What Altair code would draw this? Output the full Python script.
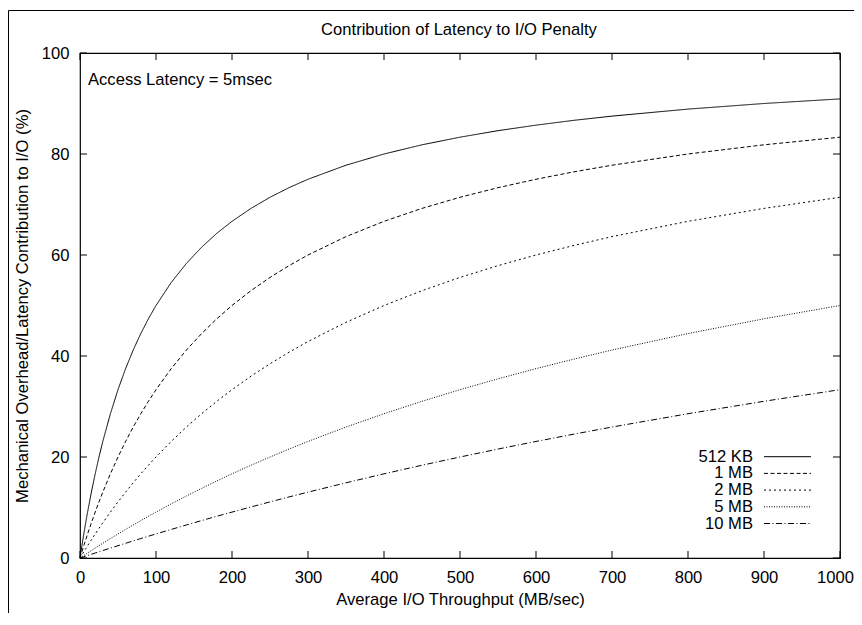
import altair as alt
import pandas as pd

FONT = "Liberation Sans"
FS = 16.6

# ---- data ----
throughput = [0, 2.5, 5, 7.5, 10, 15, 20, 25, 30, 40, 50, 60, 70, 80, 90, 100, 120, 140, 160, 180,
              200, 225, 250, 275, 300, 350, 400, 450, 500, 550, 600, 650, 700, 800, 900, 1000]

pct_512kb = [0, 2.44, 4.76, 6.98, 9.09, 13.04, 16.67, 20.0, 23.08, 28.57, 33.33, 37.5, 41.18, 44.44,
             47.37, 50.0, 54.55, 58.33, 61.54, 64.29, 66.67, 69.23, 71.43, 73.33, 75.0, 77.78, 80.0,
             81.82, 83.33, 84.62, 85.71, 86.67, 87.5, 88.89, 90.0, 90.91]
pct_1mb = [0, 1.23, 2.44, 3.61, 4.76, 6.98, 9.09, 11.11, 13.04, 16.67, 20.0, 23.08, 25.93, 28.57,
           31.03, 33.33, 37.5, 41.18, 44.44, 47.37, 50.0, 52.94, 55.56, 57.89, 60.0, 63.64, 66.67,
           69.23, 71.43, 73.33, 75.0, 76.47, 77.78, 80.0, 81.82, 83.33]
pct_2mb = [0, 0.62, 1.23, 1.84, 2.44, 3.61, 4.76, 5.88, 6.98, 9.09, 11.11, 13.04, 14.89, 16.67,
           18.37, 20.0, 23.08, 25.93, 28.57, 31.03, 33.33, 36.0, 38.46, 40.74, 42.86, 46.67, 50.0,
           52.94, 55.56, 57.89, 60.0, 61.90, 63.64, 66.67, 69.23, 71.43]
pct_5mb = [0, 0.25, 0.50, 0.74, 0.99, 1.48, 1.96, 2.44, 2.91, 3.85, 4.76, 5.66, 6.54, 7.41, 8.26,
           9.09, 10.71, 12.28, 13.79, 15.25, 16.67, 18.37, 20.0, 21.57, 23.08, 25.93, 28.57, 31.03,
           33.33, 35.48, 37.5, 39.39, 41.18, 44.44, 47.37, 50.0]
pct_10mb = [0, 0.12, 0.25, 0.37, 0.50, 0.74, 0.99, 1.23, 1.48, 1.96, 2.44, 2.91, 3.38, 3.85, 4.31,
            4.76, 5.66, 6.54, 7.41, 8.26, 9.09, 10.11, 11.11, 12.09, 13.04, 14.89, 16.67, 18.37,
            20.0, 21.57, 23.08, 24.53, 25.93, 28.57, 31.03, 33.33]

series_names = ["512 KB", "1 MB", "2 MB", "5 MB", "10 MB"]
x_ticks = [0, 100, 200, 300, 400, 500, 600, 700, 800, 900, 1000]
y_ticks = [0, 20, 40, 60, 80, 100]

title_text = "Contribution of Latency to I/O Penalty"
note_text = "Access Latency = 5msec"
x_title = "Average I/O Throughput (MB/sec)"
y_title = "Mechanical Overhead/Latency Contribution to I/O (%)"

# ---- build tables ----
all_series = [pct_512kb, pct_1mb, pct_2mb, pct_5mb, pct_10mb]
rows = []
for name, vals in zip(series_names, all_series):
    for x, y in zip(throughput, vals):
        rows.append({"throughput": x, "pct": y, "series": name})
df = pd.DataFrame(rows)
xticks_df = pd.DataFrame({"t": x_ticks})
yticks_df = pd.DataFrame({"t": y_ticks})
note_df = pd.DataFrame({"label": [note_text]})
title_df = pd.DataFrame({"label": [title_text]})
legend_df = pd.DataFrame({"series": series_names})

W, H = 760, 505
xscale = alt.Scale(domain=[0, 1000], nice=False, zero=False)
yscale = alt.Scale(domain=[0, 100], nice=False, zero=False)
dashes = [[1, 0], [4, 2.5], [2, 3], [1, 1.5], [6, 2.5, 1, 2.5]]
dash_scale = alt.Scale(domain=series_names, range=dashes)

x_axis = alt.Axis(title=x_title, values=x_ticks, format="d", ticks=False, tickSize=0,
                  domain=False, grid=False, labelPadding=11, labelFlush=False,
                  labelOffset={"condition": {"test": "datum.value === 1000", "value": -5},
                               "value": 0},
                  labelFontSize=FS, labelFont=FONT, labelColor="black", titleFont=FONT,
                  titleFontSize=FS, titleFontWeight="normal", titleColor="black",
                  titleX=380, titleY=46, titleBaseline="alphabetic")
y_axis = alt.Axis(title=y_title, values=y_ticks, format="d", ticks=False, tickSize=0,
                  domain=False, grid=False, labelPadding=11, labelFlush=False,
                  labelFontSize=FS, labelFont=FONT, labelColor="black", titleFont=FONT,
                  titleFontSize=FS, titleFontWeight="normal", titleColor="black",
                  titleX=-53, titleY=252.5, titleAngle=270, titleBaseline="alphabetic")

lines = alt.Chart(df).mark_line(color="black", strokeWidth=1).encode(
    x=alt.X("throughput:Q", scale=xscale, axis=x_axis),
    y=alt.Y("pct:Q", scale=yscale, axis=y_axis),
    strokeDash=alt.StrokeDash("series:N", scale=dash_scale, legend=None),
)

bottom_ticks = alt.Chart(xticks_df).mark_rule(color="black", strokeWidth=1).encode(
    x=alt.X("t:Q", scale=xscale, axis=x_axis), y=alt.value(H), y2=alt.value(H - 7))
top_ticks = alt.Chart(xticks_df).mark_rule(color="black", strokeWidth=1).encode(
    x=alt.X("t:Q", scale=xscale, axis=x_axis), y=alt.value(0), y2=alt.value(7))
left_ticks = alt.Chart(yticks_df).mark_rule(color="black", strokeWidth=1).encode(
    y=alt.Y("t:Q", scale=yscale, axis=y_axis), x=alt.value(0), x2=alt.value(7))
right_ticks = alt.Chart(yticks_df).mark_rule(color="black", strokeWidth=1).encode(
    y=alt.Y("t:Q", scale=yscale, axis=y_axis), x=alt.value(W), x2=alt.value(W - 7))

# legend (labels left of line samples, as in the reference)
legend_base = alt.Chart(legend_df).transform_window(
    idx="row_number()"
).transform_calculate(
    ly="403.7 + 16.7 * (datum.idx - 1)"
)
legend_lines = legend_base.mark_rule(color="black", strokeWidth=1).encode(
    x=alt.value(684), x2=alt.value(731),
    y=alt.Y("ly:Q", scale=None),
    strokeDash=alt.StrokeDash("series:N", scale=dash_scale, legend=None),
)
legend_text = legend_base.mark_text(align="right", baseline="middle", fontSize=FS,
                                    font=FONT, color="black").encode(
    x=alt.value(673),
    y=alt.Y("ly:Q", scale=None),
    text="series:N",
)

note = alt.Chart(note_df).mark_text(align="left", baseline="alphabetic", fontSize=FS,
                                    font=FONT, color="black").encode(
    text="label:N", x=alt.value(8), y=alt.value(32))
title = alt.Chart(title_df).mark_text(align="center", baseline="alphabetic", fontSize=FS,
                                      font=FONT, color="black").encode(
    text="label:N", x=alt.value(379), y=alt.value(-18))

frame_left = alt.Chart(note_df).mark_rule(color="black", strokeWidth=1).encode(
    x=alt.value(-71.5), y=alt.value(-42.5), y2=alt.value(700))
frame_top = alt.Chart(note_df).mark_rule(color="black", strokeWidth=1).encode(
    x=alt.value(-71.5), x2=alt.value(900), y=alt.value(-42.5))

chart = alt.layer(
    lines, bottom_ticks, top_ticks, left_ticks, right_ticks, legend_lines, legend_text,
    note, title, frame_left, frame_top
).properties(
    width=W, height=H,
    autosize=alt.AutoSizeParams(type="none"),
    padding={"left": 72, "top": 45, "right": 14, "bottom": 55},
).configure(
    font=FONT, background="white"
).configure_view(stroke="black", strokeWidth=1.2)

chart.save("out.html", embed_options={"renderer": "svg", "actions": False})
